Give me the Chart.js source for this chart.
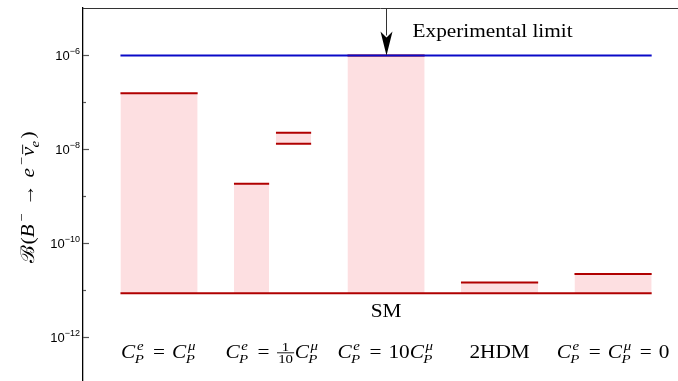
<!DOCTYPE html>
<html>
<head>
<meta charset="utf-8">
<script src="https://cdn.jsdelivr.net/npm/chart.js@4/dist/chart.umd.min.js"></script>
<style>
    html, body { margin: 0; padding: 0; background: #fff; }
    #wrap { width: 678px; height: 381px; position: relative; }
</style>
</head>
<body>
<div id="wrap"><canvas id="mainChart"></canvas></div>
<script>
// Chart data
const categories = ['$C_P^e = C_P^\u03bc$', '$C_P^e = \\frac{1}{10}C_P^\u03bc$', '$C_P^e = 10C_P^\u03bc$', '2HDM', '$C_P^e = C_P^\u03bc = 0$'];
const smValue = 8.45e-12;
const expLimit = 1.0e-6;
const upperValues = [1.57e-7, 1.82e-9, 1.0e-6, 1.43e-11, 2.18e-11];
const bandLow = [null, 1.30e-8, null, null, null];
const bandHigh = [null, 2.23e-8, null, null, null];
const majorTicks = [1e-6, 1e-8, 1e-10, 1e-12];
const minorTicks = [1e-7, 1e-9, 1e-11];
const yRange = [1.13e-13, 1.03e-5];
const yTitle = '$\u212c(B^- \u2192 e^- \\bar{\u03bd}_e)$';
const limitLabel = 'Experimental limit';
const smLabel = 'SM';

// Styles
const RED = '#b00000';
const BLUE = '#0a0ac8';
const PINK = '#fddfe1';
const HALF = 0.34;
const GAP = 0.03;
const SERIF = '"Liberation Serif", "DejaVu Serif", serif';
const SANS = '"Liberation Sans", Arial, sans-serif';
const STRETCH = 1.12; // widen serif text a bit, closer to Computer Modern
const TEXT_SIZE = 19;

// Build datasets
function segment(x0, x1, y) {
    return [{ x: x0, y: y }, { x: x1, y: y }];
}

function buildDatasets() {
    const n = categories.length;
    const sets = [];
    // lines on top first (drawn last)
    sets.push({ data: segment(1 - HALF, n + HALF, expLimit), borderColor: BLUE, borderWidth: 2, fill: false });
    sets.push({ data: segment(1 - HALF, n + HALF, smValue), borderColor: RED, borderWidth: 2, fill: false });

    upperValues.forEach((v, i) => {
        const c = i + 1;
        const hasBand = bandHigh[i] !== null;
        const x0 = c - HALF;
        const x1 = hasBand ? c - GAP : c + HALF;
        sets.push({
            data: segment(x0, x1, v),
            borderColor: RED,
            borderWidth: 2,
            backgroundColor: PINK,
            fill: { value: smValue }
        });
        if (hasBand) {
            sets.push({ data: segment(c + GAP, c + HALF, bandLow[i]), borderColor: RED, borderWidth: 2, fill: false });
            sets.push({
                data: segment(c + GAP, c + HALF, bandHigh[i]),
                borderColor: RED,
                borderWidth: 2,
                backgroundColor: PINK,
                fill: { value: bandLow[i] }
            });
        }
    });
    return sets;
}

// Tiny math text renderer
function parseMath(src) {
    const toks = [];
    let i = 0;
    const group = () => {
        if (src[i] === '{') {
            const j = src.indexOf('}', i);
            const g = src.slice(i + 1, j);
            i = j + 1;
            return g;
        }
        return src[i++];
    };
    while (i < src.length) {
        const c = src[i];
        if (c === ' ') { i++; continue; }
        if (src.startsWith('\\frac', i)) {
            i += 5;
            const num = group();
            const den = group();
            toks.push({ k: 'frac', num, den });
            continue;
        }
        if (c === '=' || c === '\u2192') { toks.push({ k: 'op', s: c }); i++; continue; }
        let bar = false;
        if (src.startsWith('\\bar', i)) { i += 4; bar = true; }
        const s = bar ? group() : src[i++];
        const tok = { k: 'sym', s, bar, it: /[A-Za-z\u03b1-\u03c9]/.test(s) };
        while (src[i] === '_' || src[i] === '^') {
            const w = src[i++];
            const g = group().replace('-', '\u2212');
            if (w === '_') tok.sub = g; else tok.sup = g;
        }
        toks.push(tok);
    }
    return toks;
}

function fontOf(italic, size) {
    return (italic ? 'italic ' : '') + size + 'px ' + SERIF;
}

function tokenWidth(ctx, t, F) {
    if (t.k === 'op') {
        ctx.font = fontOf(false, F);
        return ctx.measureText(t.s).width + F * 0.66;
    }
    if (t.k === 'frac') {
        ctx.font = fontOf(false, F * 0.7);
        return Math.max(ctx.measureText(t.num).width, ctx.measureText(t.den).width) + 3;
    }
    ctx.font = fontOf(t.it, F);
    let w = ctx.measureText(t.s).width;
    let sw = 0;
    ctx.font = fontOf(true, F * 0.7);
    if (t.sub) sw = Math.max(sw, ctx.measureText(t.sub).width);
    if (t.sup) sw = Math.max(sw, ctx.measureText(t.sup).width);
    return w + (sw ? sw + 1.5 : 0);
}

// draws text centred on cx (or left-aligned when align is 'left')
function drawMath(ctx, src, cx, base, F, align) {
    ctx.save();
    ctx.translate(cx, base);
    ctx.scale(STRETCH, 1);
    ctx.textAlign = 'left';
    ctx.textBaseline = 'alphabetic';
    ctx.fillStyle = '#000';
    if (src[0] !== '$') {
        ctx.font = fontOf(false, F);
        const w = ctx.measureText(src).width;
        ctx.fillText(src, align === 'left' ? 0 : -w / 2, 0);
        ctx.restore();
        return;
    }
    const toks = parseMath(src.slice(1, -1));
    const total = toks.reduce((a, t) => a + tokenWidth(ctx, t, F), 0);
    let x = align === 'left' ? 0 : -total / 2;
    toks.forEach(t => {
        const tw = tokenWidth(ctx, t, F);
        if (t.k === 'op') {
            ctx.font = fontOf(false, F);
            ctx.fillText(t.s, x + F * 0.33, 0);
        } else if (t.k === 'frac') {
            const axis = -F * 0.27;
            ctx.font = fontOf(false, F * 0.7);
            const nw = ctx.measureText(t.num).width;
            const dw = ctx.measureText(t.den).width;
            ctx.fillText(t.num, x + (tw - nw) / 2, axis - F * 0.1);
            ctx.fillText(t.den, x + (tw - dw) / 2, axis + F * 0.52);
            ctx.fillRect(x + 0.5, axis - 0.5, tw - 1, 0.9);
        } else {
            ctx.font = fontOf(t.it, F);
            const w = ctx.measureText(t.s).width;
            ctx.fillText(t.s, x, 0);
            if (t.bar) {
                ctx.fillRect(x + 2, -F * 0.62, w, 0.9);
            }
            ctx.font = fontOf(true, F * 0.7);
            if (t.sub) ctx.fillText(t.sub, x + w - 0.5, F * 0.27);
            if (t.sup) ctx.fillText(t.sup, x + w + 1.5, -F * 0.42);
        }
        x += tw;
    });
    ctx.restore();
}

// Decorations drawn after the chart
const decorPlugin = {
    id: 'decor',
    afterDraw(chart) {
        const ctx = chart.ctx;
        const area = chart.chartArea;
        const xs = chart.scales.x;
        const ys = chart.scales.y;
        ctx.save();

        // top frame line
        ctx.strokeStyle = '#333';
        ctx.lineWidth = 1;
        ctx.beginPath();
        ctx.moveTo(area.left, area.top + 0.5);
        ctx.lineTo(chart.width, area.top + 0.5);
        ctx.stroke();

        // inward tick marks
        ctx.strokeStyle = '#555';
        ctx.lineWidth = 1.2;
        majorTicks.concat(minorTicks).forEach(v => {
            const y = Math.round(ys.getPixelForValue(v)) + 0.5;
            const len = majorTicks.includes(v) ? 6 : 3;
            ctx.beginPath();
            ctx.moveTo(area.left, y);
            ctx.lineTo(area.left + len, y);
            ctx.stroke();
        });

        // tick labels 10^n
        ctx.fillStyle = '#000';
        ctx.textBaseline = 'alphabetic';
        majorTicks.forEach(v => {
            const y = ys.getPixelForValue(v);
            const exp = '\u2212' + Math.abs(Math.round(Math.log10(v)));
            ctx.font = '9px ' + SANS;
            const ew = ctx.measureText(exp).width;
            const right = area.left - 3;
            ctx.textAlign = 'left';
            ctx.fillText(exp, right - ew, y - 1);
            ctx.textAlign = 'right';
            ctx.font = '13px ' + SANS;
            ctx.fillText('10', right - ew, y + 5);
        });

        // y axis title (rotated)
        ctx.save();
        ctx.translate(34, 197);
        ctx.rotate(-Math.PI / 2);
        drawMath(ctx, yTitle, 0, 0, TEXT_SIZE);
        ctx.restore();

        // arrow to the experimental limit
        const ax = Math.round(xs.getPixelForValue(3)) + 0.5;
        const tip = ys.getPixelForValue(expLimit);
        ctx.strokeStyle = '#333';
        ctx.lineWidth = 1;
        ctx.beginPath();
        ctx.moveTo(ax, area.top);
        ctx.lineTo(ax, tip - 20);
        ctx.stroke();
        ctx.fillStyle = '#000';
        ctx.beginPath();
        ctx.moveTo(ax, tip);
        ctx.lineTo(ax - 6, tip - 24);
        ctx.lineTo(ax, tip - 18);
        ctx.lineTo(ax + 6, tip - 24);
        ctx.closePath();
        ctx.fill();

        drawMath(ctx, limitLabel, ax + 26, tip - 18, TEXT_SIZE, 'left');

        // SM label
        drawMath(ctx, smLabel, xs.getPixelForValue(3), ys.getPixelForValue(smValue) + 24, TEXT_SIZE);

        // category labels
        categories.forEach((lab, i) => {
            drawMath(ctx, lab, xs.getPixelForValue(i + 1), area.bottom - 23, TEXT_SIZE);
        });

        ctx.restore();
    }
};

function createChart() {
    const ctx = document.getElementById('mainChart').getContext('2d');
    return new Chart(ctx, {
        type: 'line',
        data: { datasets: buildDatasets() },
        options: {
            responsive: true,
            maintainAspectRatio: false,
            animation: false,
            events: [],
            layout: { padding: { top: 8, left: 0, right: 0, bottom: 0 } },
            elements: { point: { radius: 0 }, line: { tension: 0 } },
            plugins: {
                legend: { display: false },
                tooltip: { enabled: false },
                title: { display: false }
            },
            scales: {
                x: {
                    type: 'linear',
                    min: 0.33,
                    max: 5.572,
                    display: false
                },
                y: {
                    type: 'logarithmic',
                    min: yRange[0],
                    max: yRange[1],
                    position: 'left',
                    border: { display: true, color: '#000', width: 1.3 },
                    grid: { drawOnChartArea: false, drawTicks: false },
                    ticks: { display: false },
                    afterFit: scale => { scale.width = 83; }
                }
            }
        },
        plugins: [decorPlugin]
    });
}

document.addEventListener('DOMContentLoaded', createChart);
</script>
</body>
</html>
